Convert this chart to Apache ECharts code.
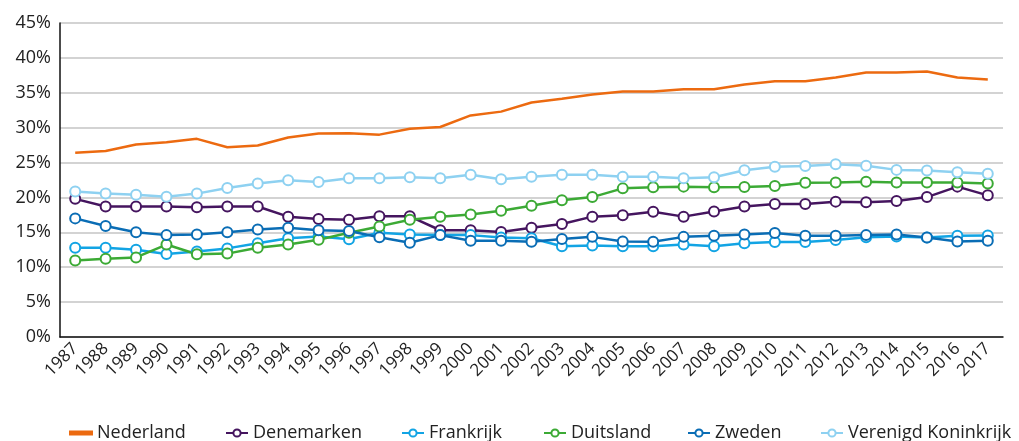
<!DOCTYPE html>
<html>
<head>
<meta charset="utf-8">
<script src="https://cdn.jsdelivr.net/npm/echarts@6/dist/echarts.min.js"></script>
<style>
  html, body { margin: 0; padding: 0; background: #fff; }
  #chart { width: 1019px; height: 441px; }
</style>
</head>
<body>
<div id="chart"></div>
<script>
(function () {
    // jaren en waarden (%) ---------------------------------------------------
    var years = ['1987','1988','1989','1990','1991','1992','1993','1994','1995','1996',
      '1997','1998','1999','2000','2001','2002','2003','2004','2005','2006','2007','2008',
      '2009','2010','2011','2012','2013','2014','2015','2016','2017'];

    var nederland = [26.4,26.65,27.6,27.9,28.4,27.2,27.45,28.6,29.15,29.2,29.0,29.85,30.1,31.75,
      32.3,33.6,34.15,34.75,35.2,35.2,35.5,35.5,36.2,36.65,36.65,37.2,37.9,37.9,38.05,37.2,36.9];
    var denemarken = [19.8,18.7,18.7,18.7,18.6,18.7,18.7,17.25,16.9,16.8,17.3,17.3,15.3,15.3,
      15.05,15.65,16.2,17.25,17.45,17.95,17.25,18.0,18.7,19.05,19.05,19.4,19.3,19.5,20.05,21.55,20.3];
    var frankrijk = [12.8,12.8,12.5,11.9,12.25,12.7,13.45,14.15,14.4,14.0,14.95,14.7,14.6,14.6,
      14.25,14.15,13.0,13.1,13.0,13.0,13.25,13.0,13.45,13.6,13.6,13.9,14.3,14.4,14.25,14.5,14.55];
    var duitsland = [10.95,11.2,11.4,13.25,11.85,11.95,12.8,13.25,13.95,14.95,15.85,16.8,17.25,17.55,
      18.1,18.8,19.6,20.05,21.3,21.45,21.55,21.45,21.5,21.65,22.1,22.15,22.25,22.15,22.15,22.15,22.0];
    var zweden = [17.0,15.9,15.0,14.6,14.7,15.0,15.4,15.65,15.3,15.2,14.3,13.5,14.6,13.8,
      13.8,13.65,14.05,14.35,13.7,13.65,14.35,14.5,14.7,14.9,14.5,14.5,14.6,14.7,14.25,13.7,13.8];
    var verenigdKoninkrijk = [20.85,20.55,20.4,20.1,20.55,21.35,22.0,22.45,22.2,22.75,22.75,22.9,22.75,23.25,
      22.6,22.95,23.25,23.25,22.95,22.95,22.75,22.9,23.9,24.4,24.5,24.75,24.55,23.95,23.85,23.6,23.4];

    var yTicks = [0,5,10,15,20,25,30,35,40,45];

    var fontName = '"Open Sans", sans-serif';

    var namen  = ['Nederland','Denemarken','Frankrijk','Duitsland','Zweden','Verenigd Koninkrijk'];
    var kleuren = ['#ec6a10','#45155f','#12a4e4','#3caa35','#0a6db5','#8ed1f1'];
    var legendLeft = [64, 220, 396, 538, 682, 815];

    function lijn(name, data, color, marker) {
      return {
        name: name,
        type: 'line',
        data: data,
        symbol: marker ? 'emptyCircle' : 'none',
        symbolSize: 10,
        showSymbol: marker,
        lineStyle: { color: color, width: 2.5 },
        itemStyle: { color: color, borderColor: color, borderWidth: 2 },
        animation: false
      };
    }

    // one legend per item so that the spacing follows the original
    var legends = namen.map(function (n, i) {
      var item = { name: n };
      if (i == 0) {
        item.icon = 'rect';
      }
      return {
        top: 419,
        left: legendLeft[i],
        itemWidth: 22,
        itemHeight: i == 0 ? 3 : 9,
        textStyle: { fontSize: 18, color: '#222', fontFamily: fontName },
        data: [item]
      };
    });

    var chart = echarts.init(document.getElementById('chart'), null, { renderer: 'canvas' });
    chart.setOption({
      backgroundColor: '#fff',
      textStyle: { fontFamily: fontName },
      grid: { left: 60, right: 16, top: 23, bottom: 104 },
      legend: legends,
      xAxis: {
        type: 'category',
        data: years,
        boundaryGap: true,
        axisLine: { lineStyle: { color: '#111', width: 1.5 } },
        axisTick: { show: false },
        axisLabel: { rotate: 45, interval: 0, fontSize: 17, color: '#222', margin: 9 }
      },
      yAxis: {
        type: 'value',
        min: yTicks[0],
        max: yTicks[yTicks.length - 1],
        interval: 5,
        axisLine: { show: true, lineStyle: { color: '#111', width: 1.5 } },
        axisTick: { show: false },
        axisLabel: { formatter: '{value}%', fontSize: 18, color: '#222', margin: 9 },
        splitLine: { lineStyle: { color: '#c4c4c4', width: 1.5 } }
      },
      series: namen.map(function (n, i) {
        var d = [nederland, denemarken, frankrijk, duitsland, zweden, verenigdKoninkrijk][i];
        return lijn(n, d, kleuren[i], i != 0);
      })
    });
})();
</script>
</body>
</html>
